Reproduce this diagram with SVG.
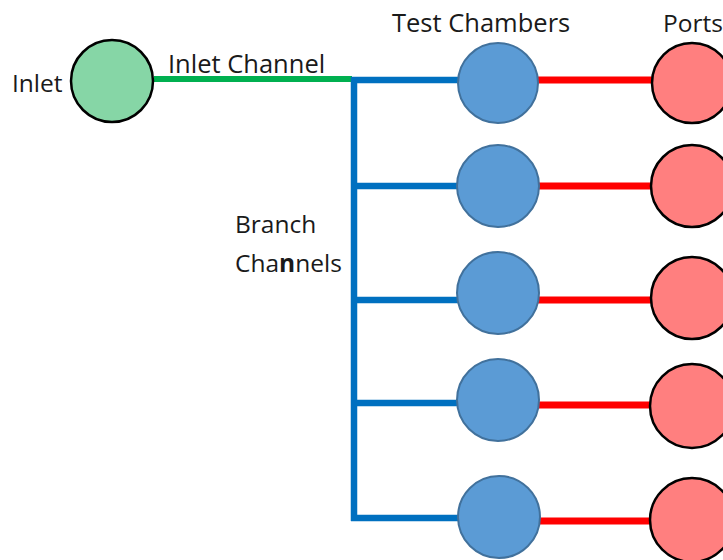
<svg xmlns="http://www.w3.org/2000/svg" width="723" height="560" viewBox="0 0 723 560">
<style>
  .lbl { font-family: "Open Sans", "Liberation Sans", sans-serif; font-size: 24.5px; fill: #1a1a1a; }
  .wide { font-size: 25.5px; }
  .chamber { fill: #5B9BD5; stroke: #41719C; stroke-width: 2; }
  .port { fill: #FF7F7F; stroke: #000; stroke-width: 2.5; }
  .inlet { fill: #86D6A6; stroke: #000; stroke-width: 2.5; }
  .blue { stroke: #0070C0; stroke-width: 6.5; fill: none; }
  .green { stroke: #00B050; stroke-width: 6; fill: none; }
  .red { stroke: #FF0000; stroke-width: 7; fill: none; }
</style>
<rect width="723" height="560" fill="#fff"/>
<g id="connectors">
  <line class="green" x1="154" y1="79" x2="352" y2="79"/>
  <path class="blue" d="M354 77 V521 M351 80 H462 M354 186 H462 M354 300 H462 M354 403 H462 M351 518 H462"/>
  <line class="red" x1="538" y1="80" x2="652" y2="80"/>
  <line class="red" x1="538" y1="186" x2="652" y2="186"/>
  <line class="red" x1="538" y1="300" x2="652" y2="300"/>
  <line class="red" x1="538" y1="405" x2="652" y2="405"/>
  <line class="red" x1="540" y1="521" x2="652" y2="521"/>
</g>
<g id="inlet">
  <circle class="inlet" cx="112" cy="81" r="41"/>
  <text class="lbl" x="12" y="92" font-size="27">Inlet</text>
</g>
<g id="label-inlet-channel"><text class="lbl wide" x="168" y="73">Inlet Channel</text></g>
<g id="label-test-chambers"><text class="lbl wide" x="392" y="32">Test Chambers</text></g>
<g id="label-ports"><text class="lbl" x="663" y="32">Ports</text></g>
<g id="label-branch-channels">
  <text class="lbl" x="235" y="233">Branch</text>
  <text class="lbl" x="235" y="272">Cha<tspan font-weight="bold">n</tspan>nels</text>
</g>
<g id="chamber-1"><circle class="chamber" cx="498" cy="83" r="40"/></g>
<g id="chamber-2"><circle class="chamber" cx="498" cy="186" r="41"/></g>
<g id="chamber-3"><circle class="chamber" cx="498" cy="293" r="41"/></g>
<g id="chamber-4"><circle class="chamber" cx="498" cy="400" r="41"/></g>
<g id="chamber-5"><circle class="chamber" cx="499" cy="517" r="41"/></g>
<g id="port-1"><circle class="port" cx="692" cy="83" r="40"/></g>
<g id="port-2"><circle class="port" cx="692" cy="186" r="41"/></g>
<g id="port-3"><circle class="port" cx="692" cy="298" r="41"/></g>
<g id="port-4"><circle class="port" cx="692" cy="406" r="42"/></g>
<g id="port-5"><circle class="port" cx="692" cy="520" r="42"/></g>
</svg>
